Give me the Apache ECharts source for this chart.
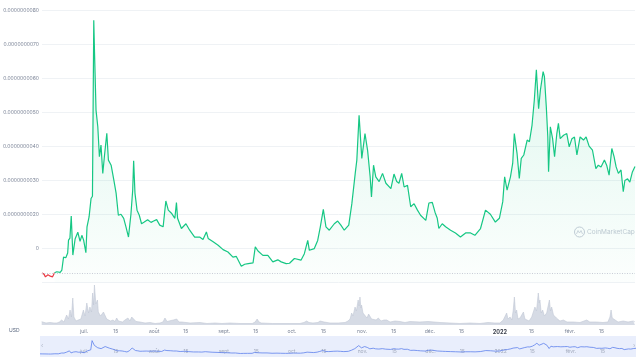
<!DOCTYPE html>
<html>
<head>
<meta charset="utf-8">
<script src="https://cdn.jsdelivr.net/npm/echarts@6/dist/echarts.min.js"></script>
<style>html,body{margin:0;padding:0;background:#fff}#c{width:640px;height:360px}</style>
</head>
<body>
<div id="c"></div>
<script>
// Price in units of 1e-9 USD
const priceDates = [
'2021-06-11 12:00','2021-06-12 10:00','2021-06-13 01:00','2021-06-14 04:00','2021-06-15 05:00','2021-06-16 05:00','2021-06-17 02:00','2021-06-18 02:00','2021-06-19 14:00','2021-06-20 08:00',
'2021-06-21 02:00','2021-06-22 02:00','2021-06-22 22:00','2021-06-23 07:00','2021-06-23 22:00','2021-06-24 12:00','2021-06-25 05:00','2021-06-26 05:00','2021-06-27 10:00','2021-06-28 10:00',
'2021-06-29 05:00','2021-06-30 00:00','2021-07-01 00:00','2021-07-01 12:00','2021-07-02 10:00','2021-07-03 07:00','2021-07-03 22:00','2021-07-04 12:00','2021-07-04 19:00','2021-07-05 12:00',
'2021-07-06 07:00','2021-07-07 00:00','2021-07-07 17:00','2021-07-08 12:00','2021-07-09 05:00','2021-07-10 07:00','2021-07-11 00:00','2021-07-12 05:00','2021-07-13 10:00','2021-07-14 10:00',
'2021-07-15 10:00','2021-07-16 14:00','2021-07-17 19:00','2021-07-18 19:00','2021-07-19 22:00','2021-07-21 00:00','2021-07-21 19:00','2021-07-22 05:00','2021-07-22 19:00','2021-07-23 17:00',
'2021-07-24 17:00','2021-07-25 17:00','2021-07-26 22:00','2021-07-28 10:00','2021-07-29 22:00','2021-07-31 02:00','2021-08-01 10:00','2021-08-02 19:00','2021-08-04 07:00','2021-08-05 12:00',
'2021-08-06 14:00','2021-08-08 00:00','2021-08-09 12:00','2021-08-10 05:00','2021-08-10 17:00','2021-08-12 10:00','2021-08-14 10:00','2021-08-16 02:00','2021-08-18 07:00','2021-08-20 12:00',
'2021-08-22 00:00','2021-08-23 12:00','2021-08-24 07:00','2021-08-26 12:00','2021-08-28 17:00','2021-08-30 22:00','2021-09-02 02:00','2021-09-04 07:00','2021-09-05 19:00','2021-09-08 00:00',
'2021-09-09 12:00','2021-09-11 02:00','2021-09-13 05:00','2021-09-14 05:00','2021-09-15 10:00','2021-09-17 14:00','2021-09-19 19:00','2021-09-22 00:00','2021-09-24 05:00','2021-09-25 17:00',
'2021-09-27 22:00','2021-09-29 10:00','2021-10-01 14:00','2021-10-04 12:00','2021-10-06 00:00','2021-10-07 12:00','2021-10-08 05:00','2021-10-10 10:00','2021-10-11 22:00','2021-10-13 02:00',
'2021-10-14 10:00','2021-10-15 14:00','2021-10-17 02:00','2021-10-19 07:00','2021-10-20 19:00','2021-10-22 05:00','2021-10-23 17:00','2021-10-25 17:00','2021-10-27 02:00','2021-10-28 14:00',
'2021-10-29 07:00','2021-10-30 07:00','2021-10-31 12:00','2021-11-01 22:00','2021-11-03 02:00','2021-11-04 05:00','2021-11-04 19:00','2021-11-05 17:00','2021-11-06 17:00','2021-11-08 05:00',
'2021-11-09 17:00','2021-11-11 05:00','2021-11-13 10:00','2021-11-14 19:00','2021-11-16 00:00','2021-11-17 00:00','2021-11-18 05:00','2021-11-19 07:00','2021-11-20 19:00','2021-11-22 05:00',
'2021-11-23 17:00','2021-11-25 05:00','2021-11-26 14:00','2021-11-28 22:00','2021-11-30 07:00','2021-12-01 19:00','2021-12-03 00:00','2021-12-04 00:00','2021-12-04 17:00','2021-12-06 05:00',
'2021-12-07 17:00','2021-12-09 22:00','2021-12-12 02:00','2021-12-14 07:00','2021-12-16 14:00','2021-12-18 19:00','2021-12-20 17:00','2021-12-23 05:00','2021-12-25 10:00','2021-12-27 14:00',
'2021-12-29 19:00','2021-12-31 14:00','2022-01-02 02:00','2022-01-02 22:00','2022-01-04 00:00','2022-01-05 12:00','2022-01-06 12:00','2022-01-07 05:00','2022-01-08 10:00','2022-01-09 10:00',
'2022-01-10 07:00','2022-01-11 10:00','2022-01-12 22:00','2022-01-13 22:00','2022-01-15 02:00','2022-01-16 02:00','2022-01-17 00:00','2022-01-18 00:00','2022-01-18 19:00','2022-01-20 00:00',
'2022-01-20 14:00','2022-01-21 10:00','2022-01-22 02:00','2022-01-22 10:00','2022-01-23 05:00','2022-01-24 05:00','2022-01-25 02:00','2022-01-26 02:00','2022-01-26 19:00','2022-01-27 14:00',
'2022-01-29 02:00','2022-01-30 12:00','2022-01-31 14:00','2022-02-01 19:00','2022-02-02 22:00','2022-02-04 00:00','2022-02-05 10:00','2022-02-06 22:00','2022-02-08 02:00','2022-02-09 10:00',
'2022-02-10 22:00','2022-02-12 10:00','2022-02-13 12:00','2022-02-14 17:00','2022-02-16 05:00','2022-02-17 05:00','2022-02-18 07:00','2022-02-19 12:00','2022-02-20 12:00','2022-02-21 10:00',
'2022-02-22 10:00','2022-02-23 14:00','2022-02-24 14:00','2022-02-25 07:00','2022-02-26 12:00','2022-02-27 12:00','2022-02-28 14:00','2022-03-01 19:00'
];
const prices = [
0.27,0.24,0.16,0.22,0.18,0.16,0.28,0.31,0.29,0.36,
0.74,0.72,0.86,1.24,1.30,1.95,0.80,1.27,1.47,1.20,
1.38,1.24,0.87,1.63,1.92,2.46,2.53,7.70,6.87,5.06,
4.57,3.69,4.03,3.20,3.69,4.38,3.59,3.44,3.00,2.62,
1.97,2.00,1.88,1.63,1.33,2.00,2.71,3.57,2.62,2.12,
1.97,1.72,1.77,1.84,1.76,1.80,1.84,1.68,1.63,2.39,
2.12,2.03,1.88,2.34,1.88,1.58,1.72,1.53,1.33,1.33,
1.26,1.48,1.29,1.19,1.09,0.96,0.89,0.74,0.76,0.47,
0.53,0.55,0.57,1.04,0.92,0.79,0.79,0.60,0.66,0.60,
0.55,0.56,0.70,0.65,0.84,1.23,0.94,0.99,1.23,1.63,
2.14,1.63,1.53,1.72,1.80,1.68,1.53,1.68,2.31,3.20,
3.59,4.91,3.64,4.37,3.87,3.10,2.51,3.44,3.10,2.96,
3.20,2.91,2.75,3.18,2.96,2.91,3.20,2.80,2.85,2.22,
2.31,2.12,1.97,1.82,2.33,2.35,2.06,1.88,1.58,1.72,
1.63,1.53,1.45,1.33,1.45,1.45,1.38,1.58,2.12,2.00,
1.77,1.88,2.37,3.10,2.71,3.10,3.50,4.37,3.79,3.05,
3.64,3.74,4.18,4.13,4.62,5.35,6.24,5.10,5.65,6.19,
6.04,5.15,4.27,3.25,4.57,4.22,3.69,4.37,4.67,4.22,
4.32,4.37,3.98,4.22,4.27,3.74,4.27,4.18,4.27,4.00,
3.88,3.34,3.44,3.39,3.59,3.44,3.15,3.93,3.69,3.39,
3.20,3.30,2.66,2.99,3.04,2.94,3.23,3.40
];
// the first points (below the opening price) are drawn red
const redPointCount = 7;
// Volume (relative units)
const volumeDates = [
'2021-06-12 06:00','2021-06-14 04:00','2021-06-15 22:00','2021-06-17 17:00','2021-06-19 00:00','2021-06-20 02:00',
'2021-06-21 02:00','2021-06-22 02:00','2021-06-23 07:00','2021-06-24 02:00','2021-06-24 19:00','2021-06-25 10:00','2021-06-26 00:00','2021-06-26 12:00','2021-06-27 10:00','2021-06-28 10:00',
'2021-06-29 14:00','2021-06-30 17:00','2021-07-01 10:00','2021-07-02 05:00','2021-07-03 00:00','2021-07-03 14:00','2021-07-04 07:00','2021-07-04 19:00','2021-07-05 05:00','2021-07-05 14:00',
'2021-07-06 05:00','2021-07-06 22:00','2021-07-07 07:00','2021-07-07 17:00','2021-07-08 07:00','2021-07-08 19:00','2021-07-09 14:00','2021-07-10 07:00','2021-07-11 00:00','2021-07-11 17:00',
'2021-07-12 17:00','2021-07-13 19:00','2021-07-14 17:00','2021-07-15 10:00','2021-07-16 05:00','2021-07-16 22:00','2021-07-18 00:00','2021-07-19 02:00','2021-07-19 19:00','2021-07-20 10:00',
'2021-07-21 07:00','2021-07-22 02:00','2021-07-22 19:00','2021-07-24 00:00','2021-07-25 17:00','2021-07-28 00:00','2021-07-30 05:00','2021-08-01 10:00','2021-08-03 14:00','2021-08-04 22:00',
'2021-08-05 19:00','2021-08-06 17:00','2021-08-07 14:00','2021-08-08 12:00','2021-08-09 12:00','2021-08-10 05:00','2021-08-11 00:00','2021-08-12 00:00','2021-08-13 07:00','2021-08-16 22:00',
'2021-08-21 07:00','2021-08-24 10:00','2021-08-27 22:00','2021-08-31 00:00','2021-09-03 14:00','2021-09-08 00:00','2021-09-13 10:00','2021-09-14 17:00','2021-09-15 14:00','2021-09-16 10:00',
'2021-09-17 10:00','2021-09-22 07:00','2021-09-25 17:00','2021-09-30 02:00','2021-10-04 12:00','2021-10-06 07:00','2021-10-07 12:00','2021-10-08 12:00','2021-10-10 07:00','2021-10-12 12:00',
'2021-10-13 10:00','2021-10-14 07:00','2021-10-15 05:00','2021-10-16 02:00','2021-10-17 19:00','2021-10-21 10:00','2021-10-24 12:00','2021-10-25 19:00','2021-10-26 17:00','2021-10-27 10:00',
'2021-10-28 00:00','2021-10-28 22:00','2021-10-29 12:00','2021-10-30 07:00','2021-10-30 17:00','2021-10-31 02:00','2021-10-31 12:00','2021-10-31 19:00','2021-11-01 10:00','2021-11-02 07:00',
'2021-11-03 05:00','2021-11-03 22:00','2021-11-04 12:00','2021-11-05 05:00','2021-11-06 00:00','2021-11-07 05:00','2021-11-08 05:00','2021-11-09 10:00','2021-11-10 17:00','2021-11-11 22:00',
'2021-11-13 10:00','2021-11-15 14:00','2021-11-17 19:00','2021-11-20 00:00','2021-11-22 05:00','2021-11-26 14:00','2021-11-30 05:00','2021-12-05 12:00','2021-12-09 22:00','2021-12-14 07:00',
'2021-12-18 19:00','2021-12-23 05:00','2021-12-26 17:00','2021-12-29 19:00','2022-01-01 00:00','2022-01-02 12:00','2022-01-03 07:00','2022-01-04 00:00','2022-01-04 14:00','2022-01-05 12:00',
'2022-01-06 07:00','2022-01-06 22:00','2022-01-07 10:00','2022-01-07 22:00','2022-01-08 10:00','2022-01-09 00:00','2022-01-09 22:00','2022-01-10 12:00','2022-01-11 10:00','2022-01-12 02:00',
'2022-01-12 22:00','2022-01-13 22:00','2022-01-15 02:00','2022-01-15 22:00','2022-01-16 12:00','2022-01-17 05:00','2022-01-18 00:00','2022-01-18 10:00','2022-01-18 17:00','2022-01-19 07:00',
'2022-01-19 22:00','2022-01-20 17:00','2022-01-21 17:00','2022-01-22 07:00','2022-01-22 22:00','2022-01-23 10:00','2022-01-23 22:00','2022-01-24 17:00','2022-01-25 10:00','2022-01-26 00:00',
'2022-01-26 19:00','2022-01-27 14:00','2022-01-29 02:00','2022-01-30 17:00','2022-02-02 12:00','2022-02-05 10:00','2022-02-08 10:00','2022-02-09 19:00','2022-02-12 19:00','2022-02-15 14:00',
'2022-02-17 19:00','2022-02-18 17:00','2022-02-19 05:00','2022-02-19 17:00','2022-02-20 05:00','2022-02-22 07:00','2022-02-24 14:00','2022-02-26 17:00','2022-03-01 00:00','2022-03-01 19:00'
];
const volumes = [
3.3,2,2.5,2,2,3,
5,3,10,6,15,8,27,8,4,5,
6,15,9,22,12,18,13,32,20,40,
21,25,13,15,9,8,13,12,6,7,
4,5,3.5,7,4,5,3,5,3.5,7,
4,8,7,3.5,3,2,2.5,1.5,2,3,
7,3.5,3,4.5,5,3,6,3,3,2,
2.5,1.5,2,1.5,2,1.5,1.5,3,6,3,
2,1.5,1.5,1.5,1.5,2.5,4,2.5,2,2.5,
4,5,3,4,2,2,2.5,4,6,12,
9,18,14,25,19,28,17,20,12,10,
7,11,10,6,8,5,7,4,5,5,
3,4,3.5,2.5,3.5,3,3.5,2.5,2,1.5,
2,1.5,2.5,2,2,5,3,12,6,8,
5,15,28,12,15,6,7,5,13,6,
7,4,8,10,18,14,32,22,25,12,
15,9,12,10,25,14,18,10,12,7,
8,4,5,3,3,2.5,5,3,3,2.5,
3,8,15,7,5,3,4,3,4,3
];
// Axis ticks
const yTickValues = [0,1,2,3,4,5,6,7,8];
const yTickLabels = ['', '0', '0.0000000020', '0.0000000030', '0.0000000040', '0.0000000050', '0.0000000060', '0.0000000070', '0.0000000080'];
const xTickDates = ['2021-07-01','2021-07-15','2021-08-01','2021-08-15','2021-09-01','2021-09-15','2021-10-01','2021-10-15','2021-11-01','2021-11-15','2021-12-01','2021-12-15','2022-01-01','2022-01-15','2022-02-01','2022-02-15'];
const xTickLabels = ['juil.','15','août','15','sept.','15','oct.','15','nov.','15','déc.','15','2022','15','févr.','15'];
const openPrice = 0.27;
const xStart = '2021-06-11 12:00';
const xEnd = '2022-03-01 19:00';

const P = s => +echarts.time.parse(s);
const tickTs = xTickDates.map(d => P(d + ' 00:00'));
function xLabel(v) {
  const i = tickTs.indexOf(v);
  if (i < 0) return '';
  const t = xTickLabels[i];
  return /^\d{4}$/.test(t) ? '{b|' + t + '}' : t;
}
const priceData = priceDates.map((d, i) => [P(d), prices[i]]);
const volData = volumeDates.map((d, i) => [P(d), volumes[i]]);

const chart = echarts.init(document.getElementById('c'), null, {renderer: 'canvas'});
const font = 'Inter, "Noto Sans", sans-serif';
const baseX = {
  type: 'value', min: P(xStart), max: P(xEnd), scale: true,
  axisLine: {show: false}, axisTick: {show: false}, splitLine: {show: false}
};
chart.setOption({
  animation: false,
  backgroundColor: '#ffffff',
  textStyle: {fontFamily: font},
  grid: [
    {left: 40, right: 5, top: 10, height: 272.3},
    {left: 40, right: 5, top: 278, height: 47},
    {left: 40, right: 4, top: 336, height: 21, show: true, backgroundColor: '#e9eefc', borderWidth: 0}
  ],
  xAxis: [
    Object.assign({}, baseX, {gridIndex: 0, axisLabel: {show: false}}),
    Object.assign({}, baseX, {gridIndex: 1, axisLabel: {
      customValues: tickTs, formatter: xLabel, fontSize: 5, color: '#7b8497', margin: 4,
      hideOverlap: false, rich: {b: {fontSize: 5.5, fontWeight: 'bold', color: '#3a3f4c'}}
    }}),
    Object.assign({}, baseX, {gridIndex: 2, axisLabel: {
      customValues: tickTs, formatter: xLabel, inside: true, fontSize: 5, color: '#a3abbd', margin: 3,
      hideOverlap: false, rich: {b: {fontSize: 5, color: '#a3abbd'}}
    }})
  ],
  yAxis: [
    {gridIndex: 0, type: 'value', min: 0, max: 8, interval: 1,
      axisLine: {show: false}, axisTick: {show: false},
      splitLine: {lineStyle: {color: '#eff2f5', width: 1}},
      axisLabel: {fontSize: 5, color: '#7b8497', margin: 3, formatter: v => yTickLabels[yTickValues.indexOf(v)] || ''}},
    {gridIndex: 1, type: 'value', min: 0, max: 47, show: false, splitLine: {show: false}},
    {gridIndex: 2, type: 'value', min: -1.5, max: 10.3, show: false, splitLine: {show: false}}
  ],
  series: [
    {
      type: 'line', xAxisIndex: 0, yAxisIndex: 0, data: priceData.slice(redPointCount - 1), symbol: 'none',
      lineStyle: {width: 1.2, color: '#16c784'},
      areaStyle: {color: new echarts.graphic.LinearGradient(0, 0, 0, 1, [
        {offset: 0, color: 'rgba(22,199,132,0.22)'},
        {offset: 1, color: 'rgba(22,199,132,0.02)'}
      ])},
      markLine: {silent: true, symbol: 'none', label: {show: false},
        lineStyle: {color: '#c7ccd6', type: [1, 1.5], width: 1},
        data: [{yAxis: openPrice}]}
    },
    {
      type: 'line', xAxisIndex: 0, yAxisIndex: 0, data: priceData.slice(0, redPointCount), symbol: 'none',
      lineStyle: {width: 1.2, color: '#ea3943'}
    },
    {
      type: 'line', xAxisIndex: 1, yAxisIndex: 1, data: volData, symbol: 'none',
      lineStyle: {width: 0.6, color: '#c1c8d5'},
      areaStyle: {color: '#d6dbe5', opacity: 1}
    },
    {
      type: 'line', xAxisIndex: 2, yAxisIndex: 2, data: priceData, symbol: 'none',
      lineStyle: {width: 0.8, color: '#5d80ec'}
    }
  ],
  graphic: [
    {type: 'text', left: 9, top: 328, style: {text: 'USD', fontSize: 5, fill: '#58667e', fontFamily: font}},
    {type: 'circle', shape: {cx: 579.5, cy: 232, r: 5}, style: {fill: 'none', stroke: '#c6ccd8', lineWidth: 1}},
    {type: 'polyline', shape: {points: [[576.5, 234], [578, 230.5], [579.5, 233], [581, 230.5], [582.5, 234]]}, style: {fill: 'none', stroke: '#c6ccd8', lineWidth: 0.8}},
    {type: 'text', x: 587, y: 232, style: {text: 'CoinMarketCap', fontSize: 6.5, fill: '#c3c9d4', verticalAlign: 'middle', fontFamily: font}},
    {type: 'text', x: 41, y: 346, style: {text: '‹', fontSize: 7, fill: '#b4bccc', verticalAlign: 'middle'}},
    {type: 'text', x: 633, y: 346, style: {text: '›', fontSize: 7, fill: '#b4bccc', verticalAlign: 'middle'}}
  ]
});
</script>
</body>
</html>
